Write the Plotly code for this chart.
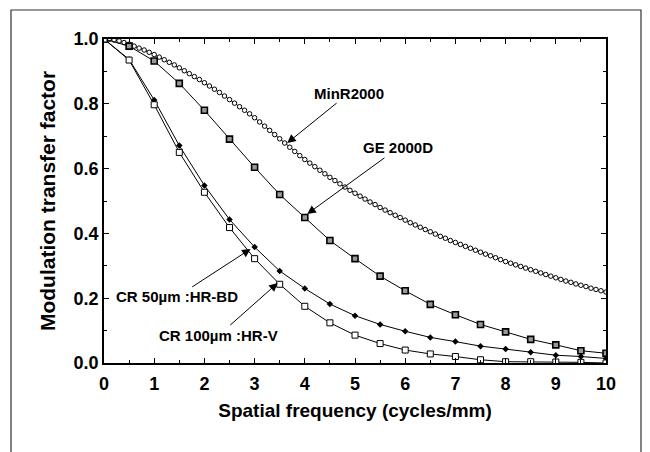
import plotly.graph_objects as go

# ---------------- data ----------------
freq_fine = [0.0, 0.1, 0.2, 0.3, 0.4, 0.5, 0.6, 0.7, 0.8, 0.9,
             1.0, 1.1, 1.2, 1.3, 1.4, 1.5, 1.6, 1.7, 1.8, 1.9,
             2.0, 2.1, 2.2, 2.3, 2.4, 2.5, 2.6, 2.7, 2.8, 2.9,
             3.0, 3.1, 3.2, 3.3, 3.4, 3.5, 3.6, 3.7, 3.8, 3.9,
             4.0, 4.1, 4.2, 4.3, 4.4, 4.5, 4.6, 4.7, 4.8, 4.9,
             5.0, 5.1, 5.2, 5.3, 5.4, 5.5, 5.6, 5.7, 5.8, 5.9,
             6.0, 6.1, 6.2, 6.3, 6.4, 6.5, 6.6, 6.7, 6.8, 6.9,
             7.0, 7.1, 7.2, 7.3, 7.4, 7.5, 7.6, 7.7, 7.8, 7.9,
             8.0, 8.1, 8.2, 8.3, 8.4, 8.5, 8.6, 8.7, 8.8, 8.9,
             9.0, 9.1, 9.2, 9.3, 9.4, 9.5, 9.6, 9.7, 9.8, 9.9, 10.0]

minr2000 = [1.000, 0.999, 0.997, 0.994, 0.989, 0.984, 0.978, 0.972, 0.966, 0.959,
            0.952, 0.944, 0.936, 0.928, 0.920, 0.911, 0.902, 0.893, 0.884, 0.875,
            0.865, 0.855, 0.845, 0.835, 0.824, 0.813, 0.802, 0.791, 0.780, 0.769,
            0.757, 0.744, 0.731, 0.718, 0.705, 0.692, 0.679, 0.666, 0.653, 0.640,
            0.628, 0.617, 0.606, 0.595, 0.584, 0.573, 0.563, 0.553, 0.543, 0.533,
            0.524, 0.515, 0.506, 0.497, 0.489, 0.480, 0.472, 0.464, 0.456, 0.449,
            0.441, 0.433, 0.426, 0.419, 0.412, 0.405, 0.398, 0.391, 0.385, 0.378,
            0.372, 0.366, 0.360, 0.354, 0.348, 0.342, 0.336, 0.331, 0.325, 0.319,
            0.313, 0.308, 0.303, 0.298, 0.293, 0.288, 0.283, 0.278, 0.273, 0.268,
            0.263, 0.258, 0.253, 0.249, 0.244, 0.240, 0.236, 0.231, 0.227, 0.223, 0.219]

freq = [0.0, 0.5, 1.0, 1.5, 2.0, 2.5, 3.0, 3.5, 4.0, 4.5, 5.0,
        5.5, 6.0, 6.5, 7.0, 7.5, 8.0, 8.5, 9.0, 9.5, 10.0]

ge2000d = [1.000, 0.978, 0.932, 0.863, 0.780, 0.691, 0.604, 0.520, 0.449, 0.378, 0.322,
           0.268, 0.223, 0.181, 0.149, 0.119, 0.096, 0.073, 0.056, 0.038, 0.030]

cr50_hrbd = [1.000, 0.937, 0.812, 0.671, 0.548, 0.443, 0.358, 0.284, 0.230, 0.182, 0.146,
             0.119, 0.098, 0.079, 0.066, 0.052, 0.043, 0.033, 0.024, 0.020, 0.014]

cr100_hrv = [1.000, 0.935, 0.797, 0.650, 0.527, 0.418, 0.322, 0.243, 0.175, 0.124, 0.086,
             0.060, 0.040, 0.028, 0.020, 0.010, 0.004, 0.004, 0.003, 0.002, 0.000]

x_ticks = [0, 1, 2, 3, 4, 5, 6, 7, 8, 9, 10]
y_ticks = [0.0, 0.2, 0.4, 0.6, 0.8, 1.0]

# ---------------- figure ----------------
FONT = "Liberation Sans, Arial, sans-serif"

fig = go.Figure()

fig.add_trace(go.Scatter(
    x=freq_fine, y=minr2000, mode="lines+markers", name="MinR2000",
    line=dict(color="black", width=1),
    marker=dict(symbol="circle", size=4.5, color="white", line=dict(color="black", width=1))))

fig.add_trace(go.Scatter(
    x=freq, y=ge2000d, mode="lines+markers", name="GE 2000D",
    line=dict(color="black", width=1),
    marker=dict(symbol="square", size=6, color="#999999", line=dict(color="black", width=1.6))))

fig.add_trace(go.Scatter(
    x=freq, y=cr50_hrbd, mode="lines+markers", name="CR 50µm :HR-BD",
    line=dict(color="black", width=1),
    marker=dict(symbol="diamond", size=5, color="black", line=dict(color="black", width=0))))

fig.add_trace(go.Scatter(
    x=freq, y=cr100_hrv, mode="lines+markers", name="CR 100µm :HR-V",
    line=dict(color="black", width=1),
    marker=dict(symbol="square", size=6, color="white", line=dict(color="black", width=1))))

ann_font = dict(family=FONT, size=15, color="black")
annotations = [
    dict(text="<b>MinR2000</b>", x=3.65, y=0.679, ax=4.88, ay=0.833),
    dict(text="<b>GE 2000D</b>", x=4.05, y=0.46, ax=5.86, ay=0.664),
    dict(text="<b>CR 50µm :HR-BD</b>", x=2.92, y=0.352, ax=1.45, ay=0.204),
    dict(text="<b>CR 100µm :HR-V</b>", x=3.46, y=0.247, ax=2.29, ay=0.086),
]
for a in annotations:
    fig.add_annotation(
        text=a["text"], x=a["x"], y=a["y"], ax=a["ax"], ay=a["ay"],
        xref="x", yref="y", axref="x", ayref="y",
        showarrow=True, arrowhead=2, arrowsize=1.7, arrowwidth=1, arrowcolor="black",
        font=ann_font, borderpad=1)

# outer frame
L, R, T, B = 104, 44, 39, 89
PW, PH = 650 - L - R, 452 - T - B
fig.add_shape(type="rect", xref="paper", yref="paper",
              x0=(11 - L) / PW, x1=(641 - L) / PW,
              y0=(452 - B - 460) / PH, y1=(452 - B - 10) / PH,
              line=dict(color="#333", width=1.2), fillcolor="rgba(0,0,0,0)", layer="below")

fig.update_layout(
    width=650, height=452,
    margin=dict(l=L, r=R, t=T, b=B),
    paper_bgcolor="white", plot_bgcolor="white",
    showlegend=False,
    font=dict(family=FONT, color="black"),
)

fig.update_xaxes(
    range=[0, 10], tickvals=x_ticks, ticktext=[f"<b>{v}</b>" for v in x_ticks],
    showgrid=False, zeroline=False,
    showline=True, linecolor="black", linewidth=1.5, mirror="ticks",
    ticks="inside", ticklen=5, tickwidth=1, tickcolor="black",
    minor=dict(dtick=0.5, ticks="inside", ticklen=3, tickcolor="black", showgrid=False),
    tickfont=dict(family=FONT, size=18, color="black"),
    ticklabelstandoff=4,
    title=dict(text="<b>Spatial frequency (cycles/mm)</b>",
               font=dict(family=FONT, size=19, color="black"), standoff=10),
)
fig.update_yaxes(
    range=[0, 1], tickvals=y_ticks, ticktext=[f"<b>{v:.1f}</b>" for v in y_ticks],
    showgrid=False, zeroline=False,
    showline=True, linecolor="black", linewidth=1.5, mirror="ticks",
    ticks="inside", ticklen=5, tickwidth=1, tickcolor="black",
    minor=dict(dtick=0.1, ticks="inside", ticklen=3, tickcolor="black", showgrid=False),
    tickfont=dict(family=FONT, size=18, color="black"),
    title=dict(text="<b>Modulation transfer factor</b>",
               font=dict(family=FONT, size=21, color="black"), standoff=12),
)

fig.write_html("out.html")
